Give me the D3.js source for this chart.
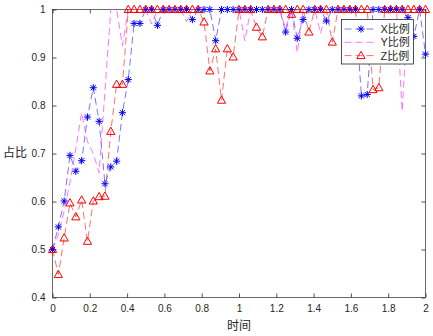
<!DOCTYPE html>
<html><head><meta charset="utf-8">
<script src="https://cdn.jsdelivr.net/npm/d3@7"></script>
<style>body{margin:0;background:#fff}svg{display:block}</style>
</head><body>
<script>
// sample times (0 to 2 in steps of 1/32)
const time = d3.range(65).map(i => i / 32);
const seriesNames = ["X比例", "Y比例", "Z比例"];
const xRatio = [0.50,0.547,0.601,0.696,0.663,0.685,0.776,0.837,0.767,0.637,
 0.672,0.684,0.785,0.854,0.971,0.971,1,1,0.967,1,
 1,1,1,1,0.979,1,1,1,0.935,1,
 1,1,1,1,1,1,1,1,1,1,
 0.953,1,0.94,0.979,1,1,1,0.976,1,1,
 1,1,1,0.82,0.823,1,1,1,1,1,
 1,0.983,0.944,1,0.907];
const yRatio = [0.50,0.53,0.58,0.64,0.71,0.785,0.725,0.70,0.66,0.83,
 1,1,0.925,1,1,1,1,0.97,1,1,
 1,1,1,0.975,1,1,1,1,1,1,
 1,1,1,0.935,1,1,1,1,1,1,
 0.96,1,0.91,1,1,1,0.95,1,1,1,
 1,1,1,1,1,1,1,1,1,1,
 0.788,1,1,1,1];
const zRatio = [0.50,0.448,0.524,0.597,0.568,0.603,0.517,0.601,0.61,0.611,
 0.746,0.844,0.844,1,1,1,1,1,1,1,
 1,1,1,1,1,1,0.974,0.872,0.918,0.811,
 0.918,0.901,1,1,1,0.963,0.943,1,1,1,
 1,0.99,1,1,0.953,1,1,1,0.932,1,
 1,1,1,1,1,0.833,0.837,1,1,1,
 1,1,1,1,1];
const xTicks = [0,0.2,0.4,0.6,0.8,1,1.2,1.4,1.6,1.8,2];
const yTicks = [0.4,0.5,0.6,0.7,0.8,0.9,1];

const W = 433, H = 336;
const L = 52.5, R = 425.5, T = 9.5, B = 297.5;
const svg = d3.select("body").append("svg").attr("width", W).attr("height", H);
svg.append("rect").attr("width", W).attr("height", H).attr("fill", "#fff");

const x = d3.scaleLinear().domain([0, 2]).range([L, R]);
const y = d3.scaleLinear().domain([0.4, 1]).range([B, T]);
const axisCol = "#262626";
const tickFont = "'Liberation Sans', Arial, sans-serif";
const cjkFont = "'Noto Sans CJK SC', sans-serif";

// axes with inward ticks
const gB = svg.append("g").attr("transform", `translate(0,${B})`)
  .call(d3.axisBottom(x).tickValues(xTicks).tickSize(-4).tickPadding(7).tickFormat(d3.format("~g")));
const gT = svg.append("g").attr("transform", `translate(0,${T})`)
  .call(d3.axisTop(x).tickValues(xTicks).tickSize(-4).tickFormat(""));
const gL = svg.append("g").attr("transform", `translate(${L},0)`)
  .call(d3.axisLeft(y).tickValues(yTicks).tickSize(-4).tickPadding(7).tickFormat(d3.format("~g")));
const gR = svg.append("g").attr("transform", `translate(${R},0)`)
  .call(d3.axisRight(y).tickValues(yTicks).tickSize(-4).tickFormat(""));
[gB, gT, gL, gR].forEach(g => {
  g.select(".domain").remove();
  g.selectAll(".tick line").attr("stroke", axisCol).attr("stroke-width", 0.8);
  g.selectAll("text").attr("fill", axisCol).style("font-family", tickFont).style("font-size", "10px");
});
svg.append("rect").attr("x", L).attr("y", T).attr("width", R - L).attr("height", B - T)
  .attr("fill", "none").attr("stroke", axisCol).attr("stroke-width", 0.8).attr("opacity", 0.85);

const clip = svg.append("g");
const line = d3.line().x((d, i) => x(time[i])).y(d => y(d));
const series = [
  {name: seriesNames[0], vals: xRatio, col: "#0000ff", lcol: "rgba(60,60,255,0.7)", marker: "star"},
  {name: seriesNames[1], vals: yRatio, col: "#ff00ff", lcol: "rgba(255,60,255,0.7)", marker: null},
  {name: seriesNames[2], vals: zRatio, col: "#ff0000", lcol: "rgba(255,50,50,0.7)", marker: "tri"}
];
const starPath = (r => {
  const k = r * 0.72;
  return `M0,${-r}L0,${r}M${-r},0L${r},0M${-k},${-k}L${k},${k}M${-k},${k}L${k},${-k}`;
})(3.6);
const triPath = "M0,-4.3L4.1,3L-4.1,3Z";

series.forEach(s => {
  clip.append("path").datum(s.vals).attr("d", line)
    .attr("fill", "none").attr("stroke", s.lcol).attr("stroke-width", 1)
    .attr("stroke-dasharray", "7,4");
});
series.forEach(s => {
  if (!s.marker) return;
  clip.selectAll(null).data(s.vals).enter().append("path")
    .attr("transform", (d, i) => `translate(${x(time[i])},${y(d)})`)
    .attr("d", s.marker === "star" ? starPath : triPath)
    .attr("fill", "none").attr("stroke", s.col).attr("stroke-width", 1);
});

// axis labels
svg.append("text").attr("x", (L + R) / 2).attr("y", 330).attr("text-anchor", "middle")
  .style("font-family", cjkFont).style("font-size", "12px").attr("fill", axisCol).text("时间");
svg.append("text").attr("x", 15).attr("y", 157).attr("text-anchor", "middle")
  .style("font-family", cjkFont).style("font-size", "12px").attr("fill", axisCol).text("占比");

// legend
const lx = 341.5, ly = 19.5, lw = 72, lh = 44.5;
const lg = svg.append("g");
lg.append("rect").attr("x", lx).attr("y", ly).attr("width", lw).attr("height", lh)
  .attr("fill", "#fff").attr("stroke", axisCol).attr("stroke-width", 0.8).attr("opacity", 1);
series.forEach((s, k) => {
  const yy = ly + 9.5 + k * 13.3;
  lg.append("line").attr("x1", lx + 3).attr("x2", lx + 36).attr("y1", yy).attr("y2", yy)
    .attr("stroke", s.lcol).attr("stroke-width", 1).attr("stroke-dasharray", "7,4");
  if (s.marker) lg.append("path").attr("transform", `translate(${lx + 19.5},${yy})`)
    .attr("d", s.marker === "star" ? starPath : triPath)
    .attr("fill", "none").attr("stroke", s.col).attr("stroke-width", 1);
  lg.append("text").attr("x", lx + 39).attr("y", yy + 4)
    .style("font-family", tickFont + ", " + cjkFont).style("font-size", "11px")
    .attr("fill", axisCol).text(s.name);
});
</script>
</body></html>
